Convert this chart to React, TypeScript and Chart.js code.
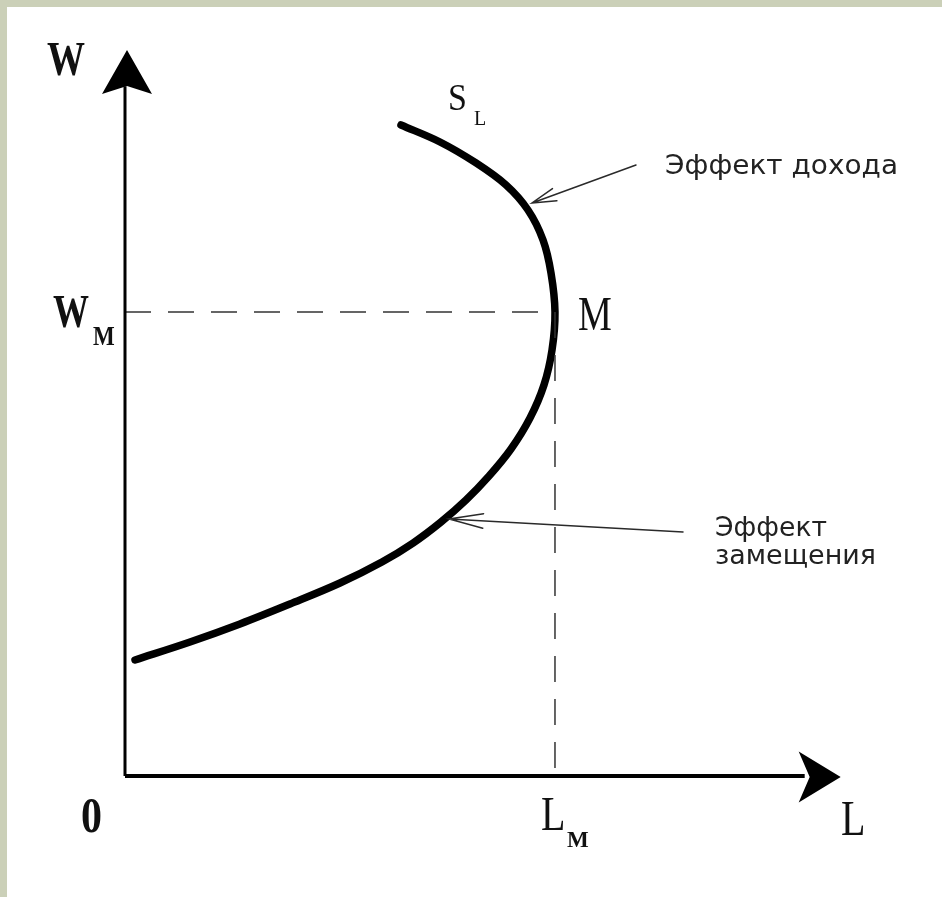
import React, { useEffect, useRef } from "react";
import { Chart, registerables } from "chart.js";

Chart.register(...registerables);

// ---- data (abstract units: L on x, W on y, both 0..100) ----
const CURVE_L = [
  38.33, 43.75, 48.75, 52.92, 55.97, 58.06, 59.17, 59.72,
  59.31, 58.19, 56.25, 53.61, 50.56, 47.36, 43.89, 40.0, 35.69, 29.86, 22.92, 15.97, 9.03, 1.39,
];
const CURVE_W = [
  89.67, 87.33, 84.44, 81.4, 77.96, 73.83, 69.28, 63.91,
  58.68, 53.86, 49.31, 45.04, 41.32, 38.02, 34.99, 32.09, 29.48, 26.58, 23.69, 20.94, 18.46, 15.98,
];
const POINT_M_L = 59.72;
const POINT_M_W = 63.91;
const AXIS_END_L = 99.4;
const AXIS_END_W = 100;
// pointer arrows: [start, tip] as [L, W]
const POINTER_INCOME = [[70.97, 84.16], [56.53, 78.93]];
const POINTER_SUBST = [[77.5, 33.6], [45.0, 35.4]];
// axis / tick labels
const AXIS_LABELS = ["W", "L", "0"];
const TICK_LABELS_W = ["W", "M"];
const TICK_LABELS_L = ["L", "M"];
const CURVE_LABEL = ["S", "L"];
const POINT_LABEL = "M";
const NOTE_INCOME = "Эффект дохода";
const NOTE_SUBST = ["Эффект", "замещения"];

type Txt = {
  t: string;
  x: number;
  y: number;
  font: string;
  sy: number;
  w?: number;
};

const SERIF = '"Liberation Serif", "DejaVu Serif", serif';
const SANS = '"DejaVu Sans", "Noto Sans", sans-serif';

const TEXTS: Txt[] = [
  { t: AXIS_LABELS[0], x: -10.83, y: 96.56, font: `bold 38px ${SERIF}`, sy: 1.25 },
  { t: TICK_LABELS_W[0], x: -10.0, y: 61.85, font: `bold 36px ${SERIF}`, sy: 1.3 },
  { t: TICK_LABELS_W[1], x: -4.44, y: 59.37, font: `bold 23px ${SERIF}`, sy: 1.15 },
  { t: AXIS_LABELS[2], x: -6.11, y: -7.71, font: `bold 42px ${SERIF}`, sy: 1.2 },
  { t: TICK_LABELS_L[0], x: 57.78, y: -7.44, font: `40px ${SERIF}`, sy: 1.2 },
  { t: TICK_LABELS_L[1], x: 61.39, y: -9.78, font: `bold 23px ${SERIF}`, sy: 1.0 },
  { t: AXIS_LABELS[1], x: 99.44, y: -8.13, font: `40px ${SERIF}`, sy: 1.25 },
  { t: CURVE_LABEL[0], x: 44.86, y: 91.74, font: `34px ${SERIF}`, sy: 1.1 },
  { t: CURVE_LABEL[1], x: 48.47, y: 89.67, font: `20px ${SERIF}`, sy: 1.0 },
  { t: POINT_LABEL, x: 62.92, y: 61.43, font: `38px ${SERIF}`, sy: 1.3 },
  { t: NOTE_INCOME, x: 75.0, y: 82.92, font: `25px ${SANS}`, sy: 1.05, w: 233 },
  { t: NOTE_SUBST[0], x: 81.94, y: 33.06, font: `25px ${SANS}`, sy: 1.05, w: 112 },
  { t: NOTE_SUBST[1], x: 81.94, y: 29.2, font: `25px ${SANS}`, sy: 1.05, w: 161 },
];

function drawArrowHead(ctx: CanvasRenderingContext2D, tipX: number, tipY: number, dirX: number, dirY: number, len: number, half: number, notch: number) {
  const nx = -dirY;
  const ny = dirX;
  const bx = tipX - dirX * len;
  const by = tipY - dirY * len;
  ctx.beginPath();
  ctx.moveTo(tipX, tipY);
  ctx.lineTo(bx + nx * half, by + ny * half);
  ctx.lineTo(tipX - dirX * (len - notch), tipY - dirY * (len - notch));
  ctx.lineTo(bx - nx * half, by - ny * half);
  ctx.closePath();
  ctx.fill();
}

function drawPointer(ctx: CanvasRenderingContext2D, sx: number, sy: number, tx: number, ty: number, barb: number, angDeg: number) {
  ctx.beginPath();
  ctx.moveTo(sx, sy);
  ctx.lineTo(tx, ty);
  const a = Math.atan2(sy - ty, sx - tx);
  const d = (angDeg * Math.PI) / 180;
  ctx.moveTo(tx + Math.cos(a + d) * barb, ty + Math.sin(a + d) * barb);
  ctx.lineTo(tx, ty);
  ctx.lineTo(tx + Math.cos(a - d) * barb, ty + Math.sin(a - d) * barb);
  ctx.stroke();
}

const decorPlugin = {
  id: "decor",
  beforeDraw(chart: any) {
    const ctx: CanvasRenderingContext2D = chart.ctx;
    const { width, height } = chart;
    ctx.save();
    ctx.fillStyle = "#cbd0b8";
    ctx.fillRect(0, 0, width, height);
    ctx.fillStyle = "#ffffff";
    ctx.fillRect(7, 7, width - 7, height - 7);
    ctx.restore();
  },
  afterDatasetsDraw(chart: any) {
    const ctx: CanvasRenderingContext2D = chart.ctx;
    const xs = chart.scales.x;
    const ys = chart.scales.y;
    const px = (v: number) => xs.getPixelForValue(v);
    const py = (v: number) => ys.getPixelForValue(v);
    ctx.save();
    ctx.fillStyle = "#000";
    drawArrowHead(ctx, px(0) + 2, py(AXIS_END_W), 0, -1, 44, 25, 8);
    drawArrowHead(ctx, px(AXIS_END_L), py(0) + 1, 1, 0, 42, 25.5, 11);

    ctx.strokeStyle = "#2a2a2a";
    ctx.lineWidth = 1.5;
    ctx.lineCap = "round";
    drawPointer(ctx, px(POINTER_INCOME[0][0]), py(POINTER_INCOME[0][1]), px(POINTER_INCOME[1][0]), py(POINTER_INCOME[1][1]), 25, 15);
    drawPointer(ctx, px(POINTER_SUBST[0][0]), py(POINTER_SUBST[0][1]), px(POINTER_SUBST[1][0]), py(POINTER_SUBST[1][1]), 35, 12);

    for (const t of TEXTS) {
      ctx.save();
      ctx.font = t.font;
      ctx.fillStyle = t.w ? "#222" : "#111";
      ctx.textAlign = "left";
      ctx.textBaseline = "alphabetic";
      let sx = 1;
      if (t.w) sx = t.w / ctx.measureText(t.t).width;
      ctx.translate(px(t.x), py(t.y));
      ctx.scale(sx, t.sy);
      ctx.fillText(t.t, 0, 0);
      ctx.restore();
    }
    ctx.restore();
  },
};

export default function App() {
  const ref = useRef<HTMLCanvasElement | null>(null);

  useEffect(() => {
    if (!ref.current) return;
    const curve = CURVE_L.map((l, i) => ({ x: l, y: CURVE_W[i] }));
    const base = { pointRadius: 0, pointHoverRadius: 0, clip: false as any, fill: false, tension: 0 };
    const chart = new Chart(ref.current, {
      type: "line",
      data: {
        datasets: [
          {
            ...base,
            label: "axis L",
            data: [{ x: 0, y: 0 }, { x: AXIS_END_L - 5, y: 0 }],
            borderColor: "#000",
            borderWidth: 4,
          },
          {
            ...base,
            label: "axis W",
            data: [{ x: 0, y: 0 }, { x: 0, y: AXIS_END_W - 5 }],
            borderColor: "#000",
            borderWidth: 3,
          },
          {
            ...base,
            label: "W_M",
            data: [{ x: 0, y: POINT_M_W }, { x: POINT_M_L, y: POINT_M_W }],
            borderColor: "#333",
            borderWidth: 1.5,
            borderDash: [26, 17],
          },
          {
            ...base,
            label: "L_M",
            data: [{ x: POINT_M_L, y: POINT_M_W }, { x: POINT_M_L, y: 0 }],
            borderColor: "#333",
            borderWidth: 1.5,
            borderDash: [26, 17],
          },
          {
            ...base,
            label: "S_L",
            data: curve,
            borderColor: "#000",
            borderWidth: 7.5,
            tension: 0.35,
            borderCapStyle: "round",
            borderJoinStyle: "round",
          },
        ],
      },
      options: {
        animation: false,
        responsive: false,
        maintainAspectRatio: false,
        events: [],
        layout: { padding: { left: 125, right: 97, top: 50, bottom: 121 } },
        scales: {
          x: { type: "linear", min: 0, max: 100, display: false },
          y: { type: "linear", min: 0, max: 100, display: false },
        },
        plugins: { legend: { display: false }, tooltip: { enabled: false } },
      },
      plugins: [decorPlugin],
    });
    return () => chart.destroy();
  }, []);

  return (
    <div style={{ position: "fixed", left: 0, top: 0, width: 942, height: 897 }}>
      <canvas ref={ref} width={942} height={897} style={{ display: "block", width: 942, height: 897 }} />
    </div>
  );
}
